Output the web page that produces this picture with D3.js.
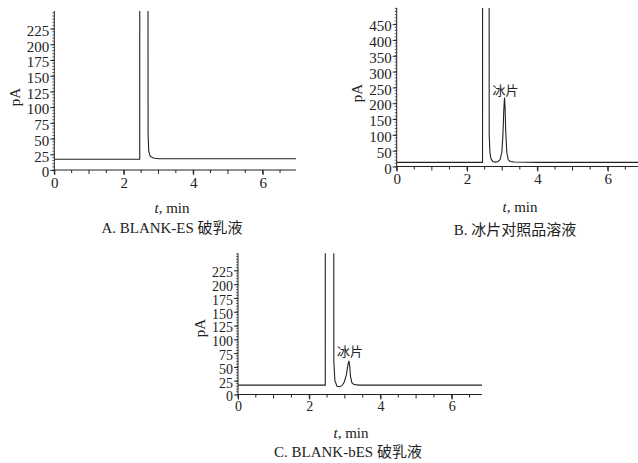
<!DOCTYPE html>
<html>
<head>
<meta charset="utf-8">
<script src="https://cdn.jsdelivr.net/npm/d3@7"></script>
<style>
  html, body { margin: 0; padding: 0; background: #fff; }
  svg { display: block; }
  .tick-label { font-family: "Liberation Serif", "Noto Sans CJK SC", serif; font-size: 15px; fill: #222; }
  .tight .tick-label { font-size: 14px; }
  .axis-title { font-family: "Liberation Serif", "Noto Sans CJK SC", serif; font-size: 15px; fill: #222; }
  .panel-title { font-family: "Liberation Serif", "Noto Sans CJK SC", serif; font-size: 15px; fill: #222; }
  .peak-label { font-family: "Noto Sans CJK SC", sans-serif; font-size: 13px; fill: #222; }
</style>
</head>
<body>
<script>
// Chromatogram traces: retention time (min) and signal (pA).
// The solvent spike goes far off scale; its apex is clipped by the plot area.
const TIME_A   = [0, 2.46, 2.47, 2.58, 2.685, 2.70, 2.72, 2.76, 2.85, 3.0, 6.96];
const SIGNAL_A = [17, 17, 3000, 5000, 3000, 60, 30, 22, 19, 18, 18];

const TIME_B   = [0, 2.44, 2.45, 2.53, 2.615, 2.63, 2.65, 2.68, 2.73, 2.80, 2.88, 2.94, 2.99, 3.02, 3.045, 3.065, 3.08, 3.10, 3.13, 3.17, 3.22, 3.35, 4, 6.86];
const SIGNAL_B = [13, 13, 3000, 5000, 3000, 100, 45, 24, 16, 14, 16, 22, 45, 100, 180, 218, 190, 110, 45, 22, 16, 14, 13, 13];

const TIME_C   = [0, 2.45, 2.46, 2.57, 2.675, 2.69, 2.72, 2.78, 2.85, 2.92, 2.98, 3.04, 3.09, 3.115, 3.135, 3.16, 3.20, 3.26, 3.4, 6.85];
const SIGNAL_C = [17, 17, 3000, 5000, 3000, 60, 25, 15, 14, 16, 22, 35, 55, 61, 52, 32, 21, 18, 17, 17];

const X_TICKS = [0, 2, 4, 6];
const Y_TICKS_A = [0, 25, 50, 75, 100, 125, 150, 175, 200, 225];
const Y_TICKS_B = [0, 50, 100, 150, 200, 250, 300, 350, 400, 450];
const Y_TICKS_C = [0, 25, 50, 75, 100, 125, 150, 175, 200, 225];

const PEAK_LABEL = '冰片';
const TITLES = ['A. BLANK-ES 破乳液', 'B. 冰片对照品溶液', 'C. BLANK-bES 破乳液'];

// panel layout (pixels); data ranges come from the axes above
const panels = [
  { t: TIME_A, v: SIGNAL_A, yTicks: Y_TICKS_A, yMinor: 5, xMax: 6.96, yMax: 253,
    x0: 54.3, x1: 296, y0: 170, y1: 11, peak: null,
    pA: [15, 97], tmin: [172, 213], title: [172, 233], title_i: 0 },
  { t: TIME_B, v: SIGNAL_B, yTicks: Y_TICKS_B, yMinor: 10, xMax: 6.86, yMax: 501,
    x0: 396.7, x1: 638, y0: 166.5, y1: 8, peak: 15, peakDy: -3,
    pA: [357, 93], tmin: [520, 212], title: [515, 235], title_i: 1 },
  { t: TIME_C, v: SIGNAL_C, yTicks: Y_TICKS_C, yMinor: 5, xMax: 6.85, yMax: 256,
    x0: 238, x1: 482, y0: 394.5, y1: 253.3, peak: 13, peakDy: -5, tight: true,
    pA: [200, 328], tmin: [351, 438], title: [348, 457], title_i: 2 },
];

const W = 638, H = 463;
const svg = d3.select('body').append('svg').attr('width', W).attr('height', H);

panels.forEach((p, i) => {
  const x = d3.scaleLinear().domain([0, p.xMax]).range([p.x0, p.x1]);
  const y = d3.scaleLinear().domain([0, p.yMax]).range([p.y0, p.y1]);
  const g = svg.append('g').attr('class', p.tight ? 'tight' : null);

  svg.append('clipPath').attr('id', 'clip' + i)
    .append('rect')
    .attr('x', p.x0).attr('y', p.y1)
    .attr('width', p.x1 - p.x0).attr('height', p.y0 - p.y1);

  // x axis: minor ticks every 0.5 min, labels at even minutes
  const xMinor = d3.range(0, p.xMax + 1e-9, 0.5);
  const xAxis = d3.axisBottom(x).tickValues(X_TICKS).tickSize(5).tickPadding(2)
    .tickFormat(d3.format('d'));
  const xg = g.append('g').attr('transform', `translate(0,${p.y0})`).call(xAxis);
  xg.select('.domain').attr('d', `M${p.x0},0H${p.x1}`);
  xg.selectAll('line.minor').data(xMinor).enter().append('line')
    .attr('class', 'minor')
    .attr('x1', x).attr('x2', x).attr('y1', 0)
    .attr('y2', (d) => (d % 1 === 0 ? 4 : 3))
    .attr('stroke', '#222');

  // y axis: dense minor ticks, labels at major steps
  const yMinor = d3.range(0, p.yMax + 1e-9, p.yMinor);
  const yAxis = d3.axisLeft(y).tickValues(p.yTicks).tickSize(4).tickPadding(1)
    .tickFormat(d3.format('d'));
  const yg = g.append('g').attr('transform', `translate(${p.x0},0)`).call(yAxis);
  yg.select('.domain').attr('d', `M0,${p.y0}V${p.y1}`);
  yg.selectAll('line.minor').data(yMinor).enter().append('line')
    .attr('class', 'minor')
    .attr('x1', 0).attr('x2', -2).attr('y1', y).attr('y2', y)
    .attr('stroke', '#222').attr('stroke-width', 0.7);

  [xg, yg].forEach((ag) => {
    ag.attr('font-family', null).attr('font-size', null);
    ag.selectAll('.domain').attr('stroke', '#222');
    ag.selectAll('.tick line').attr('stroke', '#222');
    ag.selectAll('.tick text').attr('class', 'tick-label').attr('fill', null);
  });
  yg.selectAll('.tick text').attr('dy', '0.45em');

  // trace
  const pts = p.t.map((t, k) => [t, p.v[k]]);
  const line = d3.line().x((d) => x(d[0])).y((d) => y(d[1]));
  g.append('path')
    .datum(pts)
    .attr('clip-path', `url(#clip${i})`)
    .attr('d', line)
    .attr('fill', 'none')
    .attr('stroke', '#222')
    .attr('stroke-width', 1.1);

  if (p.peak !== null) {
    g.append('text').attr('class', 'peak-label')
      .attr('x', x(p.t[p.peak]) + 1)
      .attr('y', y(p.v[p.peak]) + p.peakDy)
      .attr('text-anchor', 'middle')
      .text(PEAK_LABEL);
  }

  g.append('text').attr('class', 'axis-title')
    .attr('transform', `translate(${p.pA[0]},${p.pA[1]}) rotate(-90)`)
    .attr('text-anchor', 'middle').attr('dy', '0.35em')
    .text('pA');

  const tt = g.append('text').attr('class', 'axis-title')
    .attr('x', p.tmin[0]).attr('y', p.tmin[1]).attr('text-anchor', 'middle');
  tt.append('tspan').attr('font-style', 'italic').text('t');
  tt.append('tspan').text(', min');

  g.append('text').attr('class', 'panel-title')
    .attr('x', p.title[0]).attr('y', p.title[1]).attr('text-anchor', 'middle')
    .text(TITLES[p.title_i]);
});
</script>
</body>
</html>
